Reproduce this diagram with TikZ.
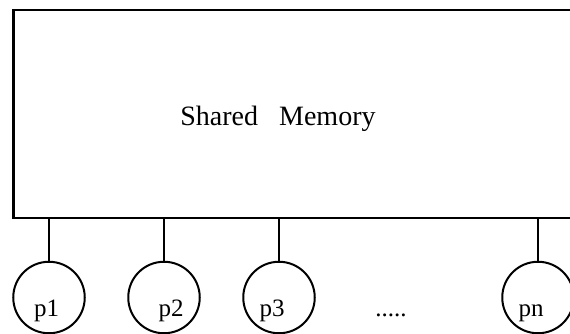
\documentclass[tikz,border=0pt]{standalone}
\usepackage{fontspec}
\setmainfont{Liberation Serif}
\begin{document}
\begin{tikzpicture}[x=1pt,y=-1pt,
  memline/.style={line width=2.6pt},
  proc/.style={draw,circle,line width=2pt,minimum size=71.5pt,inner sep=0pt},
  conn/.style={line width=2.4pt},
  plabel/.style={anchor=base,inner sep=0pt,font=\fontsize{25}{27}\selectfont}]
\useasboundingbox (0,0) rectangle (570,333);
\clip (0,0) rectangle (570,333);
\node[draw,memline,rectangle,minimum width=586.3pt,minimum height=208pt,inner sep=0pt,outer sep=0pt] (mem) at (306.85,114) {};
\node[anchor=base,inner sep=0pt,font=\fontsize{28}{30}\selectfont] (title) at (278,125) {Shared\ \ \ Memory};
\node[proc] (p1) at (49,297.5) {};
\node[proc] (p2) at (164,297.5) {};
\node[proc] (p3) at (279,297.5) {};
\node[proc] (pn) at (538,297.5) {};
\node[plabel] (l1) at (46.5,316.7) {p1};
\node[plabel] (l2) at (171,316.7) {p2};
\node[plabel] (l3) at (272,316.7) {p3};
\node[plabel] (ln) at (531,316.7) {pn};
\node[plabel] (dots) at (391,316.7) {.....};
\foreach \p in {p1,p2,p3,pn} {
  \draw[conn] (\p.north |- mem.south) -- (\p.north);
}
\end{tikzpicture}
\end{document}
